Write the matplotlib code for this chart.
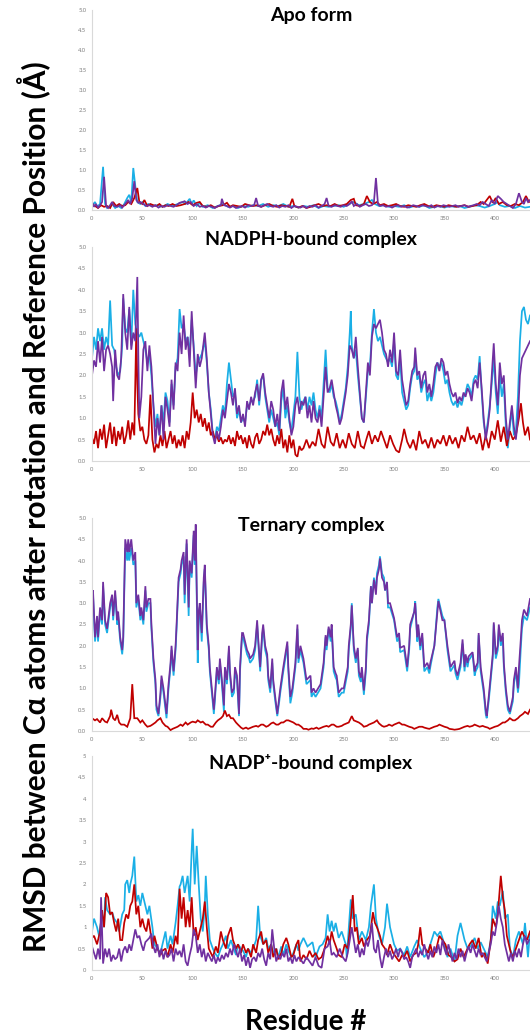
import matplotlib.pyplot as plt
from matplotlib.ticker import FixedLocator, FuncFormatter

RED = '#C00000'
CYAN = '#1AAFE6'
PURPLE = '#7030A0'

# ___ DATA: (residue, RMSD in A) ___
apo_cyan = [(0,0.1),(3,0.2),(5,0.08),(8,0.15),(11,1.08),(13,0.15),(15,0.05),(18,0.1),(20,0.15),(23,0.05),(26,0.1),(29,0.05),(32,0.15),(35,0.3),(37,0.38),(39,0.2),(41,1.05),(43,0.6),(45,0.2),(48,0.15),(50,0.2),(53,0.1),(56,0.15),(60,0.1),(65,0.12),(70,0.08),(75,0.15),(80,0.1),(85,0.15),(90,0.2),(93,0.15),(97,0.28),(99,0.15),(101,0.24),(104,0.1),(107,0.18),(110,0.08),(115,0.12),(120,0.05),(125,0.1),(130,0.15),(135,0.08),(140,0.1),(145,0.05),(150,0.1),(155,0.08),(160,0.12),(165,0.1),(170,0.15),(175,0.08),(180,0.12),(185,0.1),(190,0.15),(195,0.08),(200,0.1),(205,0.06),(210,0.1),(215,0.08),(220,0.12),(225,0.05),(230,0.1),(235,0.08),(240,0.1),(245,0.12),(250,0.08),(255,0.15),(260,0.2),(265,0.12),(270,0.15),(275,0.2),(278,0.25),(281,0.15),(285,0.1),(290,0.12),(295,0.08),(300,0.1),(305,0.08),(310,0.12),(315,0.06),(320,0.1),(325,0.08),(330,0.12),(335,0.05),(340,0.08),(345,0.1),(350,0.06),(355,0.1),(360,0.08),(365,0.1),(370,0.05),(375,0.08),(380,0.12),(385,0.1),(390,0.06),(395,0.1),(400,0.15),(403,0.2),(405,0.12),(410,0.08),(415,0.1),(420,0.05),(425,0.1),(430,0.06),(435,0.08)]
apo_red = [(0,0.15),(3,0.1),(6,0.05),(9,0.12),(12,0.08),(15,0.1),(18,0.05),(21,0.2),(24,0.1),(27,0.15),(30,0.1),(33,0.12),(36,0.2),(39,0.15),(42,0.3),(45,0.55),(47,0.2),(50,0.15),(52,0.25),(55,0.1),(58,0.15),(61,0.12),(64,0.1),(67,0.15),(70,0.08),(73,0.12),(76,0.1),(80,0.15),(84,0.1),(88,0.12),(92,0.15),(96,0.2),(100,0.12),(104,0.18),(107,0.2),(110,0.1),(114,0.08),(118,0.12),(122,0.06),(126,0.1),(130,0.12),(134,0.18),(137,0.08),(140,0.12),(144,0.1),(148,0.08),(152,0.15),(156,0.12),(160,0.1),(164,0.12),(168,0.08),(172,0.12),(176,0.15),(180,0.1),(184,0.08),(188,0.12),(192,0.1),(196,0.08),(199,0.28),(201,0.1),(205,0.06),(209,0.1),(213,0.05),(217,0.08),(221,0.12),(225,0.15),(229,0.1),(233,0.12),(237,0.1),(241,0.15),(245,0.1),(249,0.12),(253,0.15),(257,0.25),(260,0.28),(262,0.12),(266,0.1),(270,0.15),(273,0.35),(276,0.2),(279,0.15),(283,0.2),(286,0.12),(290,0.15),(294,0.1),(298,0.12),(302,0.15),(306,0.1),(310,0.08),(314,0.12),(318,0.1),(322,0.08),(326,0.12),(330,0.15),(334,0.1),(338,0.08),(342,0.12),(346,0.1),(350,0.08),(354,0.12),(358,0.1),(362,0.08),(366,0.1),(370,0.12),(374,0.08),(378,0.1),(382,0.12),(386,0.2),(389,0.15),(392,0.25),(395,0.35),(398,0.18),(401,0.3),(404,0.15),(408,0.2),(412,0.12),(416,0.1),(420,0.15),(424,0.12),(428,0.2),(431,0.35),(434,0.2)]
apo_purple = [(0,0.2),(2,0.08),(4,0.15),(6,0.05),(8,0.12),(10,0.2),(12,0.83),(14,0.1),(16,0.05),(18,0.12),(20,0.2),(22,0.1),(25,0.08),(28,0.12),(30,0.06),(33,0.15),(36,0.25),(38,0.15),(40,0.3),(42,0.72),(44,0.25),(46,0.18),(48,0.2),(51,0.15),(54,0.1),(57,0.12),(60,0.08),(63,0.12),(66,0.06),(69,0.1),(72,0.08),(75,0.12),(78,0.1),(81,0.08),(84,0.12),(87,0.18),(90,0.2),(92,0.22),(95,0.15),(98,0.2),(101,0.1),(104,0.15),(107,0.08),(110,0.1),(113,0.06),(116,0.1),(119,0.08),(122,0.05),(125,0.1),(128,0.12),(129,0.28),(131,0.12),(134,0.1),(137,0.06),(140,0.1),(143,0.05),(146,0.08),(149,0.1),(152,0.06),(155,0.12),(158,0.1),(161,0.12),(163,0.3),(165,0.1),(168,0.08),(171,0.12),(174,0.15),(177,0.1),(180,0.08),(183,0.12),(186,0.06),(189,0.1),(192,0.08),(195,0.12),(198,0.05),(201,0.1),(204,0.08),(207,0.06),(210,0.1),(213,0.05),(216,0.1),(219,0.08),(222,0.12),(225,0.06),(228,0.1),(231,0.15),(233,0.3),(235,0.1),(238,0.08),(241,0.12),(244,0.1),(247,0.08),(250,0.12),(253,0.1),(256,0.15),(258,0.22),(260,0.1),(263,0.15),(266,0.08),(269,0.12),(272,0.15),(275,0.1),(278,0.12),(280,0.2),(282,0.8),(284,0.15),(286,0.1),(289,0.12),(292,0.08),(295,0.1),(298,0.06),(301,0.1),(304,0.12),(307,0.08),(310,0.1),(313,0.06),(316,0.08),(319,0.12),(322,0.1),(325,0.08),(328,0.12),(331,0.1),(334,0.08),(337,0.12),(340,0.06),(343,0.1),(346,0.08),(349,0.12),(352,0.1),(355,0.08),(358,0.1),(361,0.12),(364,0.08),(367,0.1),(370,0.12),(373,0.08),(376,0.1),(379,0.12),(382,0.15),(385,0.12),(388,0.2),(391,0.15),(394,0.1),(397,0.25),(400,0.15),(403,0.35),(406,0.28),(409,0.2),(412,0.15),(415,0.1),(418,0.05),(421,0.15),(424,0.42),(427,0.2),(429,0.15),(431,0.3),(433,0.2),(435,0.25)]

nadph_cyan = [(0,2.4),(2,2.9),(4,2.6),(6,3.1),(8,2.8),(10,3.1),(12,2.6),(14,2.9),(16,2.7),(18,3.75),(20,2.7),(22,2.6),(24,2.2),(26,2.0),(28,2.1),(30,2.7),(31,3.8),(33,3.1),(35,3.0),(37,3.55),(39,2.7),(41,4.0),(43,3.2),(45,3.0),(47,2.9),(49,3.0),(51,2.8),(53,2.6),(55,2.3),(57,2.5),(59,2.0),(61,1.3),(63,0.8),(65,1.1),(67,0.6),(69,1.3),(71,0.9),(73,1.6),(75,1.4),(77,0.9),(79,1.8),(81,1.3),(83,2.2),(85,2.4),(87,3.55),(89,3.1),(91,3.2),(93,2.8),(95,2.9),(97,2.5),(99,3.3),(101,2.7),(103,2.0),(105,2.3),(107,2.4),(109,2.5),(112,2.8),(114,2.3),(116,1.6),(118,1.2),(120,0.6),(122,0.5),(124,0.8),(126,0.7),(128,1.0),(130,1.3),(132,1.1),(134,1.8),(136,2.3),(138,1.9),(140,1.5),(142,1.6),(144,1.0),(146,1.2),(148,0.9),(150,1.0),(152,0.9),(154,1.3),(156,1.3),(158,1.4),(160,1.4),(162,1.5),(164,1.9),(166,1.3),(168,1.9),(170,2.0),(172,1.5),(174,1.2),(176,0.9),(178,1.2),(180,1.0),(182,0.8),(184,0.9),(186,0.6),(188,1.4),(190,1.7),(192,1.0),(194,1.3),(196,0.9),(198,0.7),(200,1.1),(202,1.5),(204,2.55),(206,1.5),(208,1.2),(210,1.4),(212,1.5),(214,1.2),(216,1.5),(218,1.3),(220,1.6),(222,1.2),(224,1.0),(226,1.3),(228,1.0),(230,1.8),(232,2.6),(234,1.7),(236,1.6),(238,1.8),(240,1.5),(242,1.4),(244,1.2),(246,0.9),(248,1.1),(250,1.4),(252,1.7),(254,2.2),(256,3.0),(257,3.5),(258,2.7),(260,2.4),(262,2.6),(264,2.0),(266,1.5),(268,1.0),(270,0.9),(272,1.5),(274,2.1),(276,2.2),(278,3.0),(280,3.55),(282,3.0),(284,2.8),(286,2.9),(288,2.7),(290,2.5),(292,2.4),(294,2.3),(296,2.4),(298,2.2),(300,2.8),(302,2.0),(304,1.9),(306,2.4),(308,1.6),(310,1.4),(312,1.2),(314,1.3),(316,1.7),(318,2.0),(320,2.1),(321,2.5),(323,1.9),(325,2.0),(327,1.6),(329,1.8),(331,1.9),(333,1.4),(335,1.6),(337,1.4),(339,1.6),(341,2.0),(343,2.3),(345,2.2),(347,2.3),(349,2.1),(351,1.8),(353,1.9),(355,1.6),(357,1.4),(359,1.3),(361,1.4),(363,1.25),(365,1.4),(367,1.3),(369,1.5),(371,1.6),(373,1.8),(375,1.7),(377,1.5),(379,1.9),(381,2.0),(383,1.9),(385,2.45),(387,1.6),(389,0.9),(391,0.6),(393,0.9),(395,1.3),(397,1.8),(399,2.4),(401,1.6),(403,1.1),(405,2.0),(407,1.5),(409,1.8),(411,0.8),(413,0.3),(415,0.8),(417,1.2),(419,0.6),(421,0.7),(423,1.5),(425,2.8),(427,3.5),(429,3.6),(431,3.3),(433,3.2),(435,3.4)]
nadph_red = [(0,0.55),(2,0.4),(4,0.7),(6,0.3),(8,0.75),(10,0.5),(12,0.85),(14,0.3),(16,0.6),(18,0.9),(20,0.4),(22,0.8),(24,0.35),(26,0.7),(28,0.5),(30,0.8),(32,0.4),(34,0.6),(36,0.95),(38,0.5),(40,0.9),(42,0.6),(44,3.1),(45,1.8),(46,1.1),(48,0.7),(50,0.8),(52,0.5),(54,0.4),(56,0.6),(58,1.55),(60,0.5),(62,0.2),(64,0.4),(66,0.3),(68,0.6),(70,0.35),(72,0.7),(74,0.3),(76,0.5),(78,0.7),(80,0.4),(82,0.6),(84,0.3),(86,0.5),(88,0.35),(90,0.6),(92,0.3),(94,0.7),(96,0.5),(98,0.9),(100,1.6),(102,1.0),(104,1.2),(106,0.9),(108,1.1),(110,0.8),(112,1.0),(114,0.7),(116,0.9),(118,0.6),(120,0.7),(122,0.5),(124,0.6),(126,0.45),(128,0.55),(130,0.4),(132,0.5),(134,0.45),(136,0.6),(138,0.4),(140,0.55),(142,0.35),(144,0.7),(146,0.5),(148,0.6),(150,0.4),(152,0.55),(154,0.3),(156,0.6),(158,0.4),(160,0.3),(162,0.55),(164,0.65),(166,0.4),(168,0.5),(170,0.7),(172,0.6),(174,0.85),(176,0.6),(178,0.75),(180,0.5),(182,0.35),(184,0.6),(186,0.4),(188,0.75),(190,0.3),(192,0.5),(194,0.2),(196,0.6),(198,0.3),(200,0.5),(202,0.15),(204,0.1),(206,0.35),(208,0.25),(210,0.3),(213,0.5),(216,0.3),(219,0.45),(222,0.35),(225,0.75),(228,0.4),(231,0.3),(234,0.8),(237,0.45),(240,0.35),(243,0.65),(246,0.3),(249,0.5),(252,0.3),(255,0.65),(258,0.4),(261,0.3),(264,0.7),(267,0.35),(270,0.3),(273,0.55),(275,0.7),(278,0.4),(281,0.6),(284,0.45),(287,0.7),(290,0.5),(293,0.3),(296,0.6),(299,0.4),(302,0.25),(305,0.2),(308,0.5),(310,0.75),(313,0.45),(316,0.3),(319,0.5),(322,0.25),(325,0.7),(328,0.4),(331,0.5),(334,0.3),(337,0.55),(340,0.3),(343,0.5),(346,0.4),(349,0.6),(352,0.35),(355,0.6),(358,0.4),(361,0.55),(364,0.3),(367,0.6),(370,0.45),(373,0.8),(376,0.5),(379,0.6),(382,0.4),(385,0.65),(388,0.25),(391,0.6),(394,0.3),(397,0.7),(400,0.5),(403,0.95),(406,0.45),(409,0.8),(412,0.35),(415,0.7),(418,0.5),(421,0.6),(424,1.0),(426,1.35),(428,0.9),(430,0.6),(433,0.8),(435,0.5)]
nadph_purple = [(0,2.0),(2,2.35),(4,2.2),(6,2.8),(8,2.3),(10,2.9),(12,2.1),(14,2.6),(16,2.7),(18,2.5),(20,2.2),(21,1.4),(23,2.6),(25,2.0),(27,1.9),(29,2.4),(31,3.9),(33,3.0),(35,2.6),(37,3.6),(39,2.6),(41,3.0),(43,2.8),(45,4.3),(46,2.5),(47,1.0),(49,1.5),(51,2.6),(53,2.8),(55,2.1),(57,2.7),(59,2.2),(61,1.3),(63,0.4),(65,1.0),(67,0.6),(69,1.3),(71,0.5),(73,1.5),(75,1.2),(77,0.8),(79,1.9),(81,1.2),(83,2.3),(85,2.1),(87,3.0),(89,2.5),(91,3.4),(93,2.6),(95,2.9),(97,2.2),(99,3.5),(101,2.6),(103,1.7),(105,2.5),(107,2.2),(109,2.4),(112,3.0),(114,2.4),(116,1.6),(118,1.1),(120,0.6),(122,0.4),(124,0.7),(126,0.5),(128,0.8),(130,1.2),(132,1.0),(134,1.4),(136,1.8),(138,1.6),(140,1.3),(142,1.7),(144,1.1),(146,1.3),(148,0.9),(150,1.1),(152,0.8),(154,1.4),(156,1.2),(158,1.5),(160,1.3),(162,1.6),(164,1.8),(166,1.4),(168,1.9),(170,2.05),(172,1.6),(174,1.3),(176,1.0),(178,1.4),(180,1.2),(182,0.8),(184,1.1),(186,0.7),(188,1.6),(190,1.9),(192,1.2),(194,1.5),(196,1.0),(198,0.6),(200,0.8),(202,1.3),(204,1.5),(206,1.1),(208,1.4),(210,1.3),(212,1.5),(214,1.0),(216,1.3),(218,0.9),(220,1.4),(222,1.0),(224,0.9),(226,1.2),(228,0.8),(230,1.5),(232,2.2),(234,1.6),(236,1.7),(238,1.9),(240,1.6),(242,1.3),(244,1.1),(246,0.85),(248,1.0),(250,1.3),(252,1.6),(254,2.0),(256,2.7),(258,2.6),(260,2.4),(262,2.9),(264,2.2),(266,1.6),(268,1.0),(270,0.9),(272,1.6),(274,2.3),(276,2.0),(278,2.9),(280,3.2),(282,3.1),(284,3.2),(286,3.3),(288,3.0),(290,2.6),(292,2.5),(294,2.2),(296,2.6),(298,2.3),(300,3.0),(302,2.1),(304,2.0),(306,2.6),(308,1.9),(310,1.6),(312,1.3),(314,1.4),(316,1.8),(318,2.1),(320,2.2),(321,2.65),(323,2.0),(325,2.1),(327,1.7),(329,2.0),(331,2.1),(333,1.6),(335,1.8),(337,1.5),(339,1.8),(341,2.2),(343,2.3),(345,2.1),(347,2.4),(349,2.3),(351,2.0),(353,2.1),(355,1.8),(357,1.6),(359,1.5),(361,1.6),(363,1.35),(365,1.5),(367,1.4),(369,1.6),(371,1.5),(373,1.7),(375,1.6),(377,1.4),(379,1.8),(381,1.9),(383,1.7),(385,2.3),(387,1.7),(389,1.0),(391,0.5),(393,0.8),(395,1.2),(397,2.0),(399,2.75),(401,1.8),(403,1.3),(405,2.3),(407,1.8),(409,2.0),(411,1.0),(413,0.5),(415,0.9),(417,1.3),(419,0.8),(421,0.5),(423,1.0),(425,2.0),(427,2.4),(429,2.5),(431,2.6),(433,2.7),(435,2.8)]

ternary_cyan = [(0,2.8),(1,3.2),(3,2.1),(5,2.6),(6,2.1),(8,2.8),(10,2.5),(11,3.4),(13,2.5),(15,2.3),(18,2.9),(20,3.1),(21,2.6),(23,3.2),(25,2.5),(26,2.7),(28,2.1),(30,1.8),(31,2.1),(33,4.3),(35,4.0),(36,4.3),(37,4.0),(39,4.3),(41,3.9),(43,4.0),(44,2.9),(46,3.1),(48,2.6),(49,2.8),(51,2.5),(53,3.3),(54,2.8),(56,3.0),(58,3.0),(59,2.4),(61,1.6),(63,1.1),(64,0.5),(66,0.35),(68,0.8),(69,1.2),(71,0.9),(73,0.5),(74,0.3),(76,1.0),(78,1.5),(79,1.9),(81,1.3),(83,1.9),(84,2.4),(86,3.5),(88,3.7),(89,3.9),(91,4.1),(92,3.0),(94,4.4),(96,2.7),(97,3.9),(99,3.6),(101,4.6),(102,3.9),(103,4.7),(105,1.6),(106,2.7),(107,2.9),(109,2.1),(111,3.5),(112,3.8),(114,2.4),(116,1.9),(117,1.4),(119,0.9),(121,0.4),(122,0.7),(124,1.4),(126,1.1),(127,1.6),(129,1.1),(131,0.45),(132,1.4),(134,1.1),(136,1.9),(137,1.3),(139,0.8),(141,0.9),(142,1.4),(144,1.2),(146,0.35),(147,1.4),(149,2.2),(150,2.2),(152,2.0),(154,1.8),(156,1.7),(157,1.6),(160,1.7),(162,1.9),(164,2.5),(165,2.1),(167,1.4),(169,2.2),(170,2.4),(172,1.9),(174,1.7),(175,1.2),(177,0.9),(179,1.6),(180,1.1),(182,0.7),(184,0.35),(186,0.7),(187,0.9),(190,1.4),(194,2.0),(195,1.4),(197,0.65),(199,0.9),(200,1.1),(202,1.5),(204,2.4),(205,1.6),(207,1.9),(210,1.6),(213,1.1),(217,1.2),(218,0.8),(220,0.9),(222,0.8),(227,1.0),(230,1.5),(232,2.2),(233,1.9),(235,2.4),(237,2.1),(238,2.4),(240,1.4),(242,1.25),(243,1.2),(245,0.8),(248,0.9),(250,0.9),(254,1.4),(255,1.9),(257,2.4),(258,3.0),(260,1.9),(262,1.6),(264,1.9),(265,1.3),(267,1.15),(268,1.4),(270,0.85),(272,1.4),(273,2.1),(275,2.5),(277,3.4),(278,3.0),(280,3.6),(282,3.3),(283,3.7),(285,3.9),(286,4.1),(288,3.7),(290,3.6),(291,3.3),(293,3.4),(294,2.9),(296,2.9),(300,2.6),(303,2.1),(305,2.2),(306,1.85),(310,1.9),(313,1.4),(315,1.9),(316,2.4),(320,2.8),(321,3.05),(323,2.1),(324,2.4),(326,1.9),(328,2.2),(330,1.4),(333,1.5),(335,1.35),(336,1.5),(340,2.0),(343,2.9),(344,3.1),(348,2.7),(350,2.6),(353,1.9),(356,1.4),(360,1.55),(361,1.35),(363,1.2),(366,1.5),(368,2.05),(370,1.4),(371,1.7),(373,1.5),(374,1.65),(378,1.8),(380,1.3),(381,1.4),(383,1.5),(384,2.25),(386,1.4),(389,0.9),(391,0.4),(392,0.3),(394,0.7),(396,1.2),(398,1.7),(399,2.5),(401,1.7),(403,1.9),(404,2.4),(406,2.0),(408,2.2),(409,1.5),(411,0.9),(413,0.5),(415,0.4),(418,0.7),(419,1.1),(421,1.4),(423,0.9),(424,1.1),(426,2.0),(427,2.4),(429,2.7),(432,2.6),(435,2.9)]
ternary_red = [(0,0.3),(3,0.25),(5,0.28),(8,0.2),(10,0.3),(13,0.22),(15,0.2),(18,0.35),(19,0.5),(21,0.3),(23,0.25),(25,0.38),(27,0.2),(29,0.15),(32,0.15),(35,0.1),(38,0.3),(40,1.1),(42,0.3),(45,0.3),(48,0.2),(50,0.25),(53,0.15),(55,0.1),(58,0.12),(60,0.15),(63,0.2),(65,0.25),(68,0.3),(70,0.2),(73,0.12),(75,0.1),(78,0.02),(80,0.05),(83,0.08),(85,0.1),(88,0.15),(90,0.12),(93,0.2),(95,0.15),(98,0.2),(100,0.22),(103,0.2),(105,0.25),(108,0.2),(110,0.22),(113,0.15),(115,0.15),(118,0.1),(120,0.1),(123,0.2),(125,0.25),(128,0.3),(130,0.35),(132,0.48),(134,0.35),(136,0.38),(138,0.3),(140,0.3),(143,0.2),(145,0.15),(148,0.08),(150,0.05),(153,0.08),(155,0.05),(158,0.08),(160,0.1),(163,0.12),(165,0.1),(168,0.15),(170,0.15),(173,0.1),(175,0.12),(178,0.18),(180,0.2),(183,0.15),(185,0.15),(188,0.2),(190,0.2),(193,0.25),(195,0.25),(198,0.22),(200,0.2),(203,0.15),(205,0.15),(208,0.1),(210,0.05),(213,0.05),(215,0.03),(218,0.06),(220,0.05),(223,0.08),(225,0.05),(228,0.08),(230,0.1),(233,0.12),(235,0.1),(238,0.15),(240,0.15),(243,0.1),(245,0.1),(248,0.12),(250,0.15),(253,0.18),(255,0.2),(258,0.35),(260,0.25),(263,0.22),(265,0.2),(268,0.15),(270,0.1),(273,0.12),(275,0.15),(278,0.18),(280,0.2),(283,0.25),(285,0.18),(288,0.12),(290,0.1),(293,0.12),(295,0.15),(298,0.12),(300,0.15),(303,0.18),(305,0.2),(308,0.15),(310,0.15),(313,0.12),(315,0.1),(318,0.08),(320,0.05),(323,0.08),(325,0.1),(328,0.1),(330,0.08),(333,0.06),(335,0.05),(338,0.08),(340,0.1),(343,0.12),(345,0.15),(348,0.12),(350,0.1),(353,0.08),(355,0.05),(358,0.04),(360,0.03),(363,0.04),(365,0.05),(368,0.08),(370,0.1),(373,0.12),(375,0.1),(378,0.12),(380,0.15),(383,0.12),(385,0.1),(388,0.12),(390,0.1),(393,0.08),(395,0.05),(398,0.08),(400,0.1),(403,0.12),(405,0.15),(408,0.2),(410,0.2),(413,0.25),(415,0.3),(418,0.25),(420,0.25),(423,0.3),(425,0.35),(428,0.4),(430,0.45),(433,0.4),(435,0.5)]
ternary_purple = [(0,2.95),(1,3.3),(3,2.2),(5,2.7),(6,2.2),(8,2.9),(10,2.6),(11,3.5),(13,2.6),(15,2.4),(18,3.0),(20,3.2),(21,2.7),(23,3.3),(25,2.6),(26,2.8),(28,2.2),(30,1.9),(31,2.2),(33,4.5),(35,4.2),(36,4.5),(37,4.2),(39,4.5),(41,4.0),(43,4.2),(44,3.0),(46,3.2),(48,2.7),(49,2.9),(51,2.6),(53,3.4),(54,2.9),(56,3.1),(58,3.1),(59,2.5),(61,1.7),(63,1.2),(64,0.6),(66,0.4),(68,0.9),(69,1.3),(71,1.0),(73,0.6),(74,0.4),(76,1.1),(78,1.6),(79,2.0),(81,1.4),(83,2.0),(84,2.5),(86,3.6),(88,3.8),(89,4.0),(91,4.2),(92,3.2),(94,4.5),(96,2.9),(97,4.0),(99,3.7),(101,4.7),(102,4.0),(103,4.85),(105,1.9),(106,2.8),(107,3.0),(109,2.3),(111,3.6),(112,3.9),(114,2.5),(116,2.0),(117,1.5),(119,1.0),(121,0.5),(122,0.8),(124,1.5),(126,1.2),(127,1.7),(129,1.2),(131,0.6),(132,1.5),(134,1.2),(136,2.0),(137,1.4),(139,0.9),(141,1.0),(142,1.5),(144,1.3),(146,0.4),(147,1.5),(149,2.3),(150,2.3),(152,2.1),(154,1.9),(156,1.8),(157,1.7),(160,1.8),(162,2.0),(164,2.6),(165,2.2),(167,1.5),(169,2.3),(170,2.5),(172,2.0),(174,1.8),(175,1.3),(177,1.0),(179,1.7),(180,1.2),(182,0.8),(184,0.4),(186,0.8),(187,1.0),(190,1.5),(194,2.1),(195,1.5),(197,0.8),(199,1.0),(200,1.2),(202,1.6),(204,2.5),(205,1.7),(207,2.0),(210,1.7),(213,1.2),(217,1.3),(218,0.9),(220,1.0),(222,0.9),(227,1.1),(230,1.6),(232,2.25),(233,2.0),(235,2.45),(237,2.2),(238,2.5),(240,1.5),(242,1.35),(243,1.3),(245,0.9),(248,1.0),(250,1.0),(254,1.5),(255,2.0),(257,2.5),(258,2.95),(260,2.0),(262,1.7),(264,1.95),(265,1.4),(267,1.25),(268,1.5),(270,0.95),(272,1.5),(273,2.2),(275,2.6),(277,3.4),(278,3.0),(280,3.55),(282,3.2),(283,3.6),(285,3.8),(286,4.05),(288,3.6),(290,3.5),(291,3.3),(293,3.5),(294,3.0),(296,3.0),(300,2.65),(303,2.2),(305,2.3),(306,1.95),(310,2.0),(313,1.5),(315,2.0),(316,2.5),(320,2.8),(321,3.0),(323,2.2),(324,2.5),(326,2.0),(328,2.3),(330,1.5),(333,1.6),(335,1.45),(336,1.6),(340,2.0),(343,2.8),(344,3.05),(348,2.6),(350,2.6),(353,2.0),(356,1.5),(360,1.65),(361,1.45),(363,1.3),(366,1.6),(368,2.15),(370,1.5),(371,1.8),(373,1.6),(374,1.75),(378,1.85),(380,1.4),(381,1.5),(383,1.6),(384,2.3),(386,1.5),(389,1.0),(391,0.5),(392,0.35),(394,0.8),(396,1.3),(398,1.8),(399,2.55),(401,1.8),(403,2.0),(404,2.5),(406,2.1),(408,2.3),(409,1.6),(411,1.0),(413,0.6),(415,0.45),(418,0.8),(419,1.2),(421,1.5),(423,1.0),(424,1.5),(426,2.2),(427,2.6),(429,2.85),(432,2.7),(435,3.1)]

nadp_cyan = [(0,0.9),(2,1.2),(5,1.0),(7,0.8),(10,1.3),(12,1.0),(13,1.7),(15,1.4),(18,1.3),(20,1.35),(22,1.2),(25,1.1),(27,0.9),(30,1.3),(32,1.4),(33,2.0),(35,2.1),(37,1.8),(38,2.0),(40,2.2),(42,2.65),(44,1.6),(46,1.75),(48,1.5),(50,1.8),(52,1.6),(55,1.3),(57,1.5),(60,1.0),(62,0.6),(65,0.5),(68,0.4),(70,0.6),(73,0.9),(75,0.5),(78,0.8),(80,0.6),(83,1.1),(85,1.5),(87,1.95),(88,2.0),(90,2.2),(92,1.8),(95,2.2),(97,1.6),(99,2.8),(100,3.3),(102,2.0),(104,2.9),(106,2.0),(108,1.2),(110,0.9),(112,1.5),(113,2.2),(115,1.3),(117,0.7),(120,0.5),(122,0.4),(125,0.3),(128,0.5),(130,0.6),(133,0.8),(135,0.5),(138,0.7),(140,0.55),(143,0.35),(145,0.6),(148,0.5),(150,0.45),(153,0.3),(155,0.5),(158,0.4),(160,0.5),(163,0.7),(165,1.5),(167,0.8),(170,0.6),(173,0.75),(175,0.5),(178,0.6),(180,0.4),(183,0.5),(185,0.3),(188,0.55),(190,0.35),(193,0.6),(195,0.45),(198,0.3),(200,0.4),(203,0.6),(205,0.45),(207,0.6),(210,0.75),(214,0.55),(219,0.65),(222,0.3),(226,0.55),(229,0.6),(232,0.75),(234,1.3),(236,0.9),(238,1.15),(240,0.9),(242,1.1),(245,0.75),(248,0.9),(252,0.6),(253,0.3),(257,1.65),(259,1.2),(262,1.3),(265,0.7),(268,0.9),(272,0.7),(275,1.0),(277,1.5),(280,2.0),(282,1.2),(285,0.8),(288,0.6),(291,1.0),(293,1.55),(296,1.0),(300,0.6),(303,0.45),(306,0.5),(310,0.35),(313,0.55),(316,0.3),(320,0.55),(323,0.7),(326,0.5),(330,0.3),(333,0.4),(336,0.6),(340,0.9),(343,0.8),(346,0.9),(350,0.6),(353,0.3),(356,0.5),(360,0.2),(363,0.8),(366,1.1),(370,0.7),(373,0.5),(376,0.55),(380,0.75),(383,0.5),(386,0.65),(389,0.5),(393,0.3),(396,0.7),(398,1.5),(401,1.2),(403,1.6),(405,1.5),(408,1.85),(410,1.2),(413,1.3),(415,0.5),(418,0.3),(421,0.7),(424,0.9),(428,0.6),(430,1.1),(433,0.3),(435,0.9)]
nadp_red = [(0,0.75),(2,0.8),(5,0.6),(8,0.9),(10,1.4),(12,1.0),(14,1.8),(16,1.7),(18,1.3),(20,1.35),(22,1.1),(24,0.9),(26,1.2),(28,0.7),(30,0.7),(32,1.1),(34,1.3),(36,1.2),(38,1.5),(40,1.6),(42,2.0),(44,1.3),(46,1.5),(48,1.0),(50,1.2),(52,1.0),(54,0.9),(56,1.2),(58,0.9),(60,0.5),(62,0.8),(65,0.5),(68,0.35),(70,0.45),(73,0.5),(75,0.3),(78,0.6),(80,0.4),(83,0.8),(85,0.6),(87,1.9),(89,1.2),(91,1.7),(93,1.0),(95,1.4),(97,1.0),(99,1.7),(101,0.8),(103,1.0),(105,0.7),(108,1.0),(110,1.2),(112,1.6),(114,1.0),(116,0.5),(118,0.4),(120,0.3),(123,0.55),(125,0.4),(128,0.9),(130,0.7),(133,0.5),(135,0.8),(138,1.0),(140,0.7),(143,0.5),(145,0.6),(148,0.4),(150,0.6),(153,0.4),(155,0.5),(158,0.3),(160,0.6),(163,0.4),(165,0.7),(168,0.9),(170,0.6),(173,0.7),(175,0.4),(178,0.6),(180,0.3),(183,0.5),(185,0.25),(188,0.4),(190,0.6),(193,0.75),(195,0.6),(198,0.3),(200,0.35),(203,0.6),(205,0.7),(207,0.2),(210,0.35),(213,0.25),(216,0.45),(219,0.3),(222,0.4),(225,0.25),(228,0.3),(231,0.5),(234,0.8),(236,0.6),(238,0.9),(240,0.7),(243,0.5),(245,0.35),(248,0.3),(251,0.6),(254,0.5),(256,0.9),(259,1.75),(261,0.9),(263,1.0),(265,0.6),(268,0.75),(270,0.55),(273,0.7),(276,0.8),(279,1.35),(281,1.1),(283,1.0),(286,0.8),(288,0.6),(291,0.5),(293,0.35),(296,0.6),(299,0.4),(302,0.3),(305,0.2),(308,0.35),(310,0.3),(313,0.45),(316,0.2),(319,0.35),(322,0.4),(324,0.6),(326,1.0),(328,0.6),(331,0.5),(334,0.4),(336,0.6),(339,0.3),(342,0.5),(345,0.8),(348,0.7),(351,0.6),(354,0.35),(357,0.3),(360,0.2),(363,0.25),(366,0.5),(369,0.3),(372,0.45),(375,0.6),(378,0.7),(381,0.5),(384,0.75),(387,0.3),(390,0.4),(393,0.15),(396,0.7),(398,1.2),(401,1.0),(403,1.3),(405,1.9),(406,2.2),(408,1.7),(410,1.4),(412,0.8),(414,0.6),(416,0.4),(418,0.3),(421,0.5),(424,0.7),(427,0.9),(429,0.8),(432,0.7),(435,0.9)]
nadp_purple = [(0,0.55),(2,0.4),(4,0.25),(6,0.5),(8,0.25),(9,1.7),(11,0.15),(13,0.5),(15,0.3),(17,0.5),(19,0.2),(21,0.35),(23,0.25),(25,0.3),(27,0.5),(29,0.2),(31,0.45),(33,0.55),(35,0.4),(37,0.6),(39,0.45),(41,0.7),(43,0.95),(45,0.75),(47,0.8),(49,0.6),(51,0.45),(53,0.65),(55,0.7),(57,0.75),(59,0.85),(61,0.55),(63,0.4),(65,0.6),(67,0.3),(69,0.5),(71,0.25),(73,0.45),(75,0.3),(77,0.35),(79,0.5),(81,0.2),(83,0.5),(85,0.35),(87,0.45),(89,0.3),(91,0.6),(93,0.2),(95,0.1),(97,0.35),(99,0.55),(101,0.95),(103,0.8),(105,0.4),(107,0.6),(109,0.3),(111,0.5),(113,0.2),(115,0.4),(117,0.3),(119,0.2),(121,0.35),(123,0.15),(125,0.3),(127,0.2),(129,0.35),(131,0.25),(133,0.4),(135,0.3),(137,0.5),(139,0.35),(141,0.6),(143,0.45),(145,0.3),(147,0.5),(149,0.2),(151,0.35),(153,0.1),(155,0.3),(157,0.05),(159,0.25),(161,0.3),(163,0.2),(165,0.4),(167,0.3),(169,0.5),(171,0.25),(173,0.1),(175,0.4),(177,0.25),(179,0.95),(181,0.5),(183,0.2),(185,0.35),(187,0.25),(189,0.4),(191,0.3),(193,0.5),(195,0.2),(197,0.3),(199,0.15),(201,0.35),(203,0.2),(205,0.3),(207,0.25),(210,0.15),(213,0.3),(216,0.2),(219,0.1),(222,0.3),(225,0.1),(228,0.05),(231,0.5),(234,0.55),(236,0.7),(238,0.35),(240,0.4),(243,0.3),(246,0.5),(249,0.3),(252,0.2),(254,0.4),(256,0.7),(258,1.0),(260,0.7),(262,0.4),(264,0.6),(266,0.3),(268,0.5),(270,0.35),(272,0.7),(274,0.55),(276,0.75),(278,1.1),(280,0.5),(282,0.4),(284,0.7),(286,0.3),(288,0.05),(290,0.3),(292,0.5),(294,0.3),(296,0.45),(298,0.25),(300,0.35),(302,0.5),(304,0.3),(306,0.5),(308,0.4),(310,0.25),(312,0.3),(314,0.2),(316,0.05),(318,0.3),(320,0.4),(322,0.5),(324,0.3),(326,0.45),(328,0.35),(330,0.6),(332,0.4),(334,0.25),(336,0.45),(338,0.3),(340,0.55),(342,0.4),(344,0.6),(346,0.35),(348,0.7),(350,0.5),(352,0.35),(354,0.6),(356,0.4),(358,0.2),(360,0.4),(362,0.25),(364,0.5),(366,0.3),(368,0.45),(370,0.2),(372,0.4),(374,0.55),(376,0.4),(378,0.6),(380,0.45),(382,0.3),(384,0.5),(386,0.35),(388,0.4),(390,0.3),(392,0.2),(394,0.4),(396,0.6),(398,0.9),(400,0.8),(402,1.1),(404,1.5),(406,1.2),(408,1.0),(410,0.6),(412,0.4),(414,0.2),(416,0.4),(418,0.2),(420,0.45),(422,0.3),(424,0.5),(426,0.3),(428,0.6),(430,0.8),(432,0.6),(434,0.7)]

titles = ['Apo form', 'NADPH-bound complex', 'Ternary complex', 'NADP\u207a-bound complex']
x_ticks = [0, 50, 100, 150, 200, 250, 300, 350, 400]
y_ticks = [0, 0.5, 1, 1.5, 2, 2.5, 3, 3.5, 4, 4.5, 5]

W, H = 530, 1034
fig = plt.figure(figsize=(W / 100, H / 100), dpi=100)

# axes boxes in pixels: (top, bottom); every panel spans x 92..530
boxes = [(10, 210), (247, 461), (518, 731), (756, 970)]
title_y = [15, 239, 525, 763]
series = [
    (apo_cyan, apo_red, apo_purple),
    (nadph_cyan, nadph_red, nadph_purple),
    (ternary_cyan, ternary_red, ternary_purple),
    (nadp_cyan, nadp_red, nadp_purple),
]
fmt_one = FuncFormatter(lambda v, p: '%.1f' % v)
fmt_g = FuncFormatter(lambda v, p: '%g' % v)

for i, ((top, bot), (cy, rd, pu)) in enumerate(zip(boxes, series)):
    ax = fig.add_axes([92 / W, 1 - bot / H, 438 / W, (bot - top) / H])
    for data, col in [(cy, CYAN), (rd, RED), (pu, PURPLE)]:
        xs, ys = zip(*data)
        ax.plot(xs, ys, color=col, lw=1.25, solid_joinstyle='miter')
    ax.set_xlim(0, 435)
    ax.set_ylim(0, 5)
    ax.xaxis.set_major_locator(FixedLocator(x_ticks))
    ax.yaxis.set_major_locator(FixedLocator(y_ticks))
    ax.yaxis.set_major_formatter(fmt_g if i == 3 else fmt_one)
    for s in ['top', 'right']:
        ax.spines[s].set_visible(False)
    for s in ['left', 'bottom']:
        ax.spines[s].set_color('#D9D9D9')
        ax.spines[s].set_linewidth(0.8)
    ax.tick_params(length=0, labelsize=4.2, labelcolor='#7F7F7F', pad=4)
    for lab in ax.get_xticklabels() + ax.get_yticklabels():
        lab.set_family('Lato')
    fig.text(311 / W, 1 - title_y[i] / H, titles[i], ha='center', va='center',
             fontsize=14, fontweight='bold', family=['Lato', 'DejaVu Sans'])

fig.text(33 / W, 1 - 507 / H, 'RMSD between C\u03b1 atoms after rotation and Reference Position (\u00c5)',
         rotation=90, ha='center', va='center', fontsize=21.5, fontweight='bold',
         family=['Lato', 'DejaVu Sans'])
fig.text(306 / W, 1 - 1022 / H, 'Residue #', ha='center', va='center',
         fontsize=20, fontweight='bold', family='Lato')

plt.savefig('out.png', dpi=100)
